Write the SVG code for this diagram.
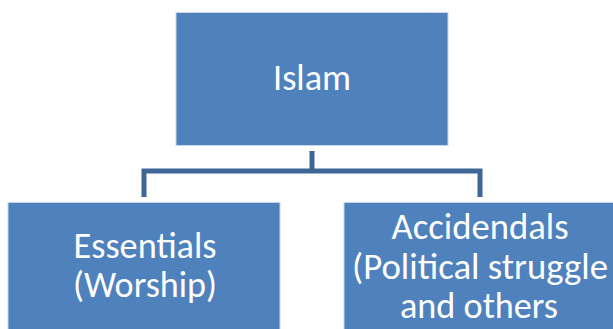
<svg xmlns="http://www.w3.org/2000/svg" width="613" height="329" viewBox="0 0 613 329">
<style>
.box{fill:#4F81BD;stroke:#C9D6EA;stroke-width:1}
.lbl{font-family:Carlito,Calibri,"Liberation Sans",sans-serif;font-size:36px;fill:#FFFFFF;text-anchor:middle}
.conn{fill:none;stroke:#3E6696;stroke-width:5;stroke-linejoin:miter}
</style>
<rect width="613" height="329" fill="#FFFFFF"/>
<g id="connectors">
<path class="conn" d="M312,151 V171"/>
<path class="conn" d="M144,197 V171 H480 V197"/>
</g>
<g id="node-islam">
<rect class="box" x="176" y="12.5" width="272" height="133"/>
<text class="lbl" x="312" y="90" textLength="78" lengthAdjust="spacingAndGlyphs">Islam</text>
</g>
<g id="node-essentials">
<rect class="box" x="8" y="202.5" width="272" height="133"/>
<text class="lbl" x="145" y="258" textLength="143" lengthAdjust="spacingAndGlyphs">Essentials</text>
<text class="lbl" x="145" y="297" textLength="144" lengthAdjust="spacingAndGlyphs">(Worship)</text>
</g>
<g id="node-accidendals">
<rect class="box" x="344" y="202.5" width="272" height="133"/>
<text class="lbl" x="480" y="238.5" textLength="177" lengthAdjust="spacingAndGlyphs">Accidendals</text>
<text class="lbl" x="480" y="278.5" textLength="256" lengthAdjust="spacingAndGlyphs">(Political struggle</text>
<text class="lbl" x="479" y="318" textLength="158" lengthAdjust="spacingAndGlyphs">and others</text>
</g>
</svg>
